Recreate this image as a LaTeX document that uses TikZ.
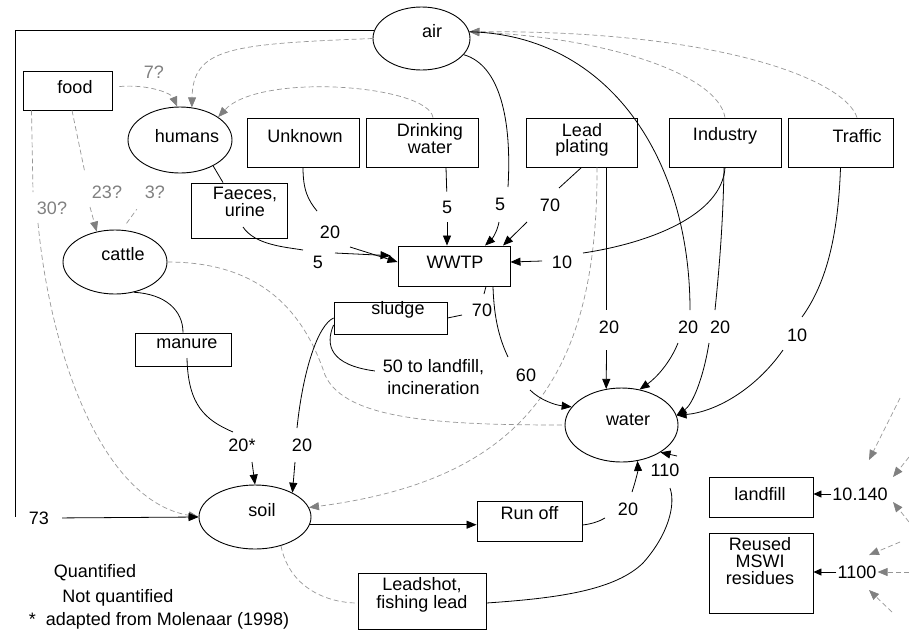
\documentclass[tikz,border=0pt]{standalone}
\usepackage{fontspec}
\setmainfont{Liberation Sans}
\usetikzlibrary{arrows.meta,shapes.geometric}
\definecolor{lgray}{RGB}{150,150,150}
\definecolor{agray}{RGB}{128,128,128}
\newcommand\dfont{\fontsize{18}{16.5}\selectfont}
\begin{document}
\begin{tikzpicture}[x=1pt,y=-1pt,
  every node/.style={font=\dfont},
  box/.style={draw, line width=0.9pt, rectangle, inner sep=0pt},
  ell/.style={draw, line width=0.9pt, ellipse, inner sep=0pt},
  txt/.style={align=center, inner sep=0pt},
  num/.style={inner sep=1pt},
  gnum/.style={inner sep=1pt, text=agray},
  ln/.style={line width=0.8pt},
  arr/.style={line width=0.8pt, -{Triangle[length=10pt,width=8pt]}},
  sarr/.style={line width=0.8pt, -{Triangle[length=8pt,width=7pt]}},
  dsh/.style={line width=0.7pt, lgray, dash pattern=on 5pt off 3pt},
  dsharr/.style={dsh, -{Triangle[length=10pt,width=8pt,color=agray]}}
]
\useasboundingbox (0,0) rectangle (909,630);

% ---------- main nodes ----------
\node[ell, minimum width=97, minimum height=63, label={[txt,xshift=10.5pt,yshift=7pt]center:air}] (air) at (421.5,38.5) {};
\node[box, minimum width=89, minimum height=39, label={[txt,xshift=7.5pt,yshift=3.5pt]center:food}] (food) at (67.5,90.5) {};
\node[ell, minimum width=104, minimum height=66, label={[txt,xshift=7pt,yshift=4pt]center:humans}] (humans) at (180,140) {};
\node[box, minimum width=112, minimum height=49, label={[txt,xshift=2pt,yshift=6.5pt]center:Unknown}] (unknown) at (303,142.5) {};
\node[box, minimum width=112, minimum height=49, label={[txt,xshift=8pt,yshift=4pt]center:{Drinking\\water}}] (drinking) at (422,142.5) {};
\node[box, minimum width=111, minimum height=49, label={[txt,xshift=0.5pt,yshift=2.5pt]center:{Lead\\plating}}] (lead) at (581.5,142.5) {};
\node[box, minimum width=112, minimum height=49, label={[txt,yshift=6.5pt]center:Industry}] (industry) at (725,142.5) {};
\node[box, minimum width=105, minimum height=49, label={[txt,xshift=16.5pt,yshift=6.5pt]center:Traffic}] (traffic) at (840.5,142.5) {};
\node[box, minimum width=96, minimum height=55, label={[txt,xshift=6pt,yshift=8.5pt]center:{Faeces,\\urine}}] (faeces) at (239,210.5) {};
\node[ell, minimum width=104, minimum height=64, label={[txt,xshift=8pt,yshift=8pt]center:cattle}] (cattle) at (115,262) {};
\node[box, minimum width=112, minimum height=40, label={[txt,xshift=1pt,yshift=4pt]center:WWTP}] (wwtp) at (454,266) {};
\node[box, minimum width=113, minimum height=32, label={[txt,xshift=7.5pt,yshift=8.5pt]center:sludge}] (sludge) at (390.5,318) {};
\node[box, minimum width=96, minimum height=33, label={[txt,xshift=4pt,yshift=5.5pt]center:manure}] (manure) at (183,349.5) {};
\node[ell, minimum width=113, minimum height=74, label={[txt,xshift=6.5pt,yshift=5pt]center:water}] (water) at (621.5,425) {};
\node[ell, minimum width=112, minimum height=64, label={[txt,xshift=7pt,yshift=7pt]center:soil}] (soil) at (255,517) {};
\node[box, minimum width=105, minimum height=40, label={[txt,yshift=8pt]center:Run off}] (runoff) at (529.5,521) {};
\node[box, minimum width=128, minimum height=56, label={[txt,font=\fontsize{18}{17.5}\selectfont,yshift=6pt]center:{Leadshot,\\fishing lead}}] (leadshot) at (422,601) {};
\node[box, minimum width=104, minimum height=40, label={[txt,xshift=-1pt,yshift=3pt]center:landfill}] (landfill) at (761,497) {};
\node[box, minimum width=104, minimum height=80, label={[txt,font=\fontsize{18}{17}\selectfont,xshift=-1pt,yshift=11.5pt]center:{Reused\\MSWI\\residues}}] (reused) at (761,573) {};

% ---------- flow labels ----------
\node[gnum] (l7) at (154,72) {7?};
\node[gnum] (l23) at (107,192) {23?};
\node[gnum] (l3) at (155,192) {3?};
\node[gnum] (l30) at (52,208) {30?};
\node[num] (l20u) at (330,232) {20};
\node[num] (l5f) at (318,262) {5};
\node[num] (l5d) at (447,207) {5};
\node[num] (l5a) at (500,204) {5};
\node[num] (l70l) at (550,205) {70};
\node[num] (l10i) at (562,262) {10};
\node[num] (l70s) at (482,310) {70};
\node[txt, font=\fontsize{18}{22}\selectfont] (l50) at (433.5,377.5) {50 to landfill,\\incineration};
\node[num] (l20lp) at (609,327) {20};
\node[num] (l20a) at (688,327) {20};
\node[num] (l20i) at (720,327) {20};
\node[num] (l10t) at (797,335) {10};
\node[num] (l60) at (526,375) {60};
\node[num] (l20m) at (242,445) {20*};
\node[num] (l20s) at (302,445) {20};
\node[num] (l73) at (39,518) {73};
\node[num] (l20r) at (628,509) {20};
\node[num] (l110) at (665,470) {110};
\node[num] (l10140) at (860,494) {10.140};
\node[num] (l1100) at (857,572) {1100};

% ---------- legend ----------
\node[txt] (lq) at (95,573) {Quantified};
\node[txt] (lnq) at (118,598) {Not quantified};
\node[txt] (lstar) at (159,621) {*\ \ adapted from Molenaar (1998)};

% ---------- free coordinates ----------
\coordinate (c73) at (15,517);
\coordinate (c23a) at (85,173);
\coordinate (c23b) at (90,207);
\coordinate (c30a) at (33,192);
\coordinate (c30b) at (38,223);
\coordinate (cf1) at (303,250);
\coordinate (cf2) at (335,253);
\coordinate (cu1) at (317,211);
\coordinate (cu2) at (350,247);
\coordinate (ca1) at (508,187);
\coordinate (ca2) at (499,222);
\coordinate (cl1) at (559,188);
\coordinate (cl2) at (527,222);
\coordinate (ci1) at (583,253);
\coordinate (ci2) at (542,261);
\coordinate (caw1) at (690,310);
\coordinate (caw2) at (678,343);
\coordinate (ciw1) at (715,310);
\coordinate (ciw2) at (709,343);
\coordinate (clw1) at (606,310);
\coordinate (clw2) at (606.5,350);
\coordinate (ctw1) at (802,317);
\coordinate (ctw2) at (783,350);
\coordinate (cww1) at (508,357);
\coordinate (cww2) at (530,390);
\coordinate (cws1) at (484,294);
\coordinate (cws2) at (462,315);
\coordinate (css1) at (297,428);
\coordinate (css2) at (295,462);
\coordinate (cms1) at (233,432);
\coordinate (cms2) at (252,462);
\coordinate (crw1) at (605,518);
\coordinate (crw2) at (632,492);
\coordinate (clsw1) at (670,488);
\coordinate (clsw2) at (677,456);
\coordinate (r1s) at (900,398);  \coordinate (r1e) at (869,460);
\coordinate (r2s) at (909,457);  \coordinate (r2e) at (893,477);
\coordinate (r3s) at (909,522);  \coordinate (r3e) at (893,502);
\coordinate (r4s) at (900,542);  \coordinate (r4e) at (869,555);
\coordinate (r5s) at (909,572);
\coordinate (r6s) at (892,612);  \coordinate (r6e) at (869,590);

% ---------- not quantified (dashed) ----------
\draw[dsharr] ([xshift=7pt,yshift=4pt]food.east) .. controls (150,84) and (172,94) .. (humans.95);
\draw[dsharr] (air.west) .. controls (230,44) and (193,48) .. (humans.70);
\draw[dsharr] ([xshift=11pt]drinking.north) .. controls (428,85) and (260,72) .. (humans.31);
\draw[dsh] ([xshift=4.5pt]food.south) -- (c23a);
\draw[dsharr] (c23b) -- (cattle.121);
\draw[dsh, shorten <=8pt, shorten >=12pt] (cattle.78) -- (l3.south west);
\draw[dsh] ([xshift=-36pt]food.south) -- (c30a);
\draw[dsharr] (c30b) .. controls (50,350) and (100,500) .. (soil.west);
\draw[dsh] (cattle.east) .. controls (250,262) and (300,300) .. (325,375) .. controls (345,420) and (440,425) .. (water.west);
\draw[dsharr] ([xshift=15.5pt]lead.south) .. controls (598,380) and (520,480) .. (soil.10);
\draw[dsh] (soil.-48) .. controls (290,590) and (330,603) .. ([yshift=-2pt]leadshot.west);
\draw[dsharr] (industry.north) .. controls (718,75) and (610,38) .. (air.8);
\draw[dsharr] ([xshift=16.5pt]traffic.north) .. controls (845,80) and (720,30) .. (air.8);
\draw[dsharr] (r1s) -- (r1e);
\draw[dsharr] (r2s) -- (r2e);
\draw[dsharr] (r3s) -- (r3e);
\draw[dsharr] (r4s) -- (r4e);
\draw[dsharr] (r5s) -- (l1100.east);
\draw[dsharr] (r6s) -- (r6e);

% ---------- quantified (solid) ----------
\draw[ln] (air.170) -| (c73);
\draw[arr, shorten <=12pt] (l73.east) -- (soil.west);
\draw[ln] (humans.-38) -- ([xshift=-16pt]faeces.north);
\draw[ln] ([xshift=4pt,yshift=-16.5pt]faeces.center) .. controls (255,245) and (285,247) .. (cf1);
\draw[arr, shorten >=7pt] (cf2) -- ([yshift=10pt]wwtp.west);
\draw[ln] (unknown.south) .. controls (303,190) and (308,200) .. (cu1);
\draw[arr] (cu2) -- ([yshift=4pt]wwtp.west);
\draw[ln, shorten >=8pt] ([xshift=24pt]drinking.south) -- (l5d.north);
\draw[arr, shorten <=8pt] (l5d.south) -- ([xshift=-7pt]wwtp.north);
\draw[ln] (air.-21) .. controls (500,65) and (512,120) .. (ca1);
\draw[arr] (ca2) .. controls (497,233) and (491,240) .. ([xshift=31pt]wwtp.north);
\draw[ln] (lead.south) -- (cl1);
\draw[arr] (cl2) -- ([xshift=49pt]wwtp.north);
\draw[ln] (industry.south) .. controls (722,215) and (650,243) .. (ci1);
\draw[arr] (ci2) -- ([yshift=4pt]wwtp.east);
\draw[ln] (air.8) .. controls (610,35) and (690,160) .. (caw1);
\draw[arr] (caw2) .. controls (670,363) and (656,378) .. (water.63);
\draw[ln] ([xshift=-1pt]industry.south) .. controls (723,230) and (718,280) .. (ciw1);
\draw[arr] (ciw2) .. controls (703,380) and (692,405) .. (water.10);
\draw[ln] ([xshift=24.5pt]lead.south) -- (clw1);
\draw[arr] (clw2) -- (water.113);
\draw[ln] (traffic.south) .. controls (838,240) and (825,285) .. (ctw1);
\draw[arr] (ctw2) .. controls (755,390) and (715,412) .. (water.10);
\draw[ln] ([xshift=39pt]wwtp.south) .. controls (494,320) and (500,340) .. (cww1);
\draw[arr] (cww2) .. controls (540,400) and (555,405) .. (water.160);
\draw[ln] ([xshift=32pt]wwtp.south) -- (cws1);
\draw[ln] (cws2) -- (sludge.east);
\draw[ln] (sludge.west) .. controls (318,325) and (303,370) .. (css1);
\draw[arr] (css2) -- (soil.33);
\draw[ln, shorten >=8pt] ([yshift=-7pt]sludge.west) .. controls (325,345) and (330,365) .. ([yshift=5.5pt]l50.west);
\draw[ln] (cattle.-58) .. controls (165,294) and (183,310) .. (manure.north);
\draw[ln] ([xshift=4pt,yshift=-8.5pt]manure.center) .. controls (188,405) and (205,420) .. (cms1);
\draw[arr] (cms2) -- (soil.north);
\draw[arr] (soil.-8) -- (soil.-8 -| runoff.west);
\draw[ln] ([yshift=-4pt]runoff.east) .. controls (592,524) and (600,521) .. (crw1);
\draw[arr] (crw2) .. controls (636,480) and (638,470) .. (water.-66);
\draw[ln] ([yshift=-2pt]leadshot.east) .. controls (560,598) and (615,590) .. (643,563) .. controls (668,535) and (676,505) .. (clsw1);
\draw[arr] (clsw2) -- (water.-35);
\draw[sarr] (l10140.west) -- (l10140.west -| landfill.east);
\draw[sarr] (l1100.west) -- (l1100.west -| reused.east);
\end{tikzpicture}
\end{document}
